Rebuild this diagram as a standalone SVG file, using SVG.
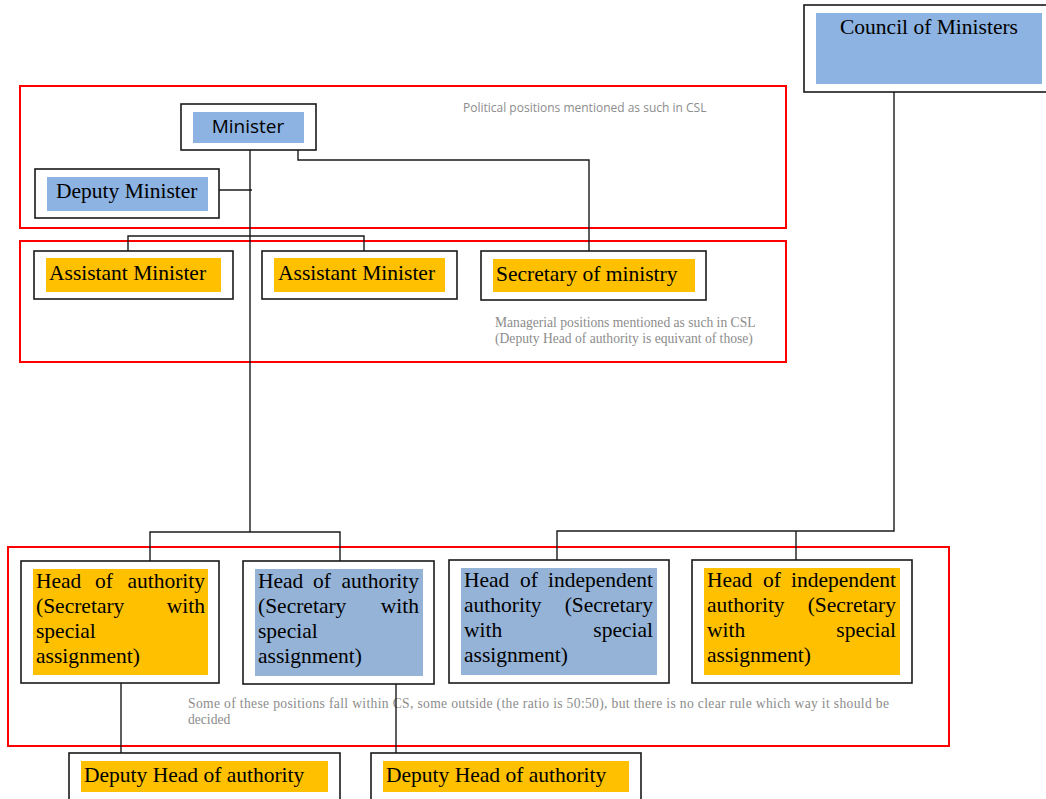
<svg xmlns="http://www.w3.org/2000/svg" width="1046" height="799" viewBox="0 0 1046 799">
  <style>
    .frame { fill: none; stroke: #ff0000; stroke-width: 2; }
    .box { fill: #ffffff; stroke: #1a1a1a; stroke-width: 1.6; }
    .blue { fill: #8db3e2; }
    .steel { fill: #95b3d7; }
    .amber { fill: #ffc000; }
    .lbl { font-family: "Liberation Serif", "Times New Roman", serif; font-size: 21.5px; fill: #000; }
    .sans { font-family: "Open Sans", "Noto Sans", "Liberation Sans", sans-serif; font-size: 19px; fill: #000; }
    .note { font-family: "Liberation Serif", "Times New Roman", serif; font-size: 13.6px; fill: #8c8c8c; }
    .notesans { font-family: "Open Sans", "Noto Sans", "Liberation Sans", sans-serif; font-size: 12px; fill: #8c8c8c; }
    .wire { fill: none; stroke: #1a1a1a; stroke-width: 1.4; }
  </style>

  <rect x="0" y="0" width="1046" height="799" fill="#ffffff"/>

  <!-- category frames -->
  <g id="frames">
    <rect class="frame" x="20" y="86" width="766" height="142"/>
    <rect class="frame" x="20" y="241" width="766" height="121"/>
    <rect class="frame" x="8" y="547" width="941" height="199"/>
    <text class="notesans" x="463" y="112">Political positions mentioned as such in CSL</text>
    <text class="note" x="495" y="327">Managerial positions mentioned as such in CSL</text>
    <text class="note" x="495" y="343">(Deputy Head of authority is equivant of those)</text>
    <text class="note" x="188" y="708" textLength="701" lengthAdjust="spacing">Some of these positions fall within CS, some outside (the ratio is 50:50), but there is no clear rule which way it should be</text>
    <text class="note" x="188" y="724">decided</text>
  </g>

  <!-- connectors -->
  <g id="connectors">
    <path class="wire" d="M250 150 V532"/>
    <path class="wire" d="M219 190 H252"/>
    <path class="wire" d="M298 150 V160 H589 V251"/>
    <path class="wire" d="M128 251 V236 H364 V251"/>
    <path class="wire" d="M150 561 V532 H340 V561"/>
    <path class="wire" d="M894 92 V531 H557 V561"/>
    <path class="wire" d="M796 531 V561"/>
    <path class="wire" d="M121 683 V753"/>
    <path class="wire" d="M396 684 V753"/>
  </g>

  <g id="council">
    <rect class="box" x="804" y="5" width="250" height="87"/>
    <rect class="blue" x="816" y="13" width="226" height="71"/>
    <text class="lbl" x="929" y="34" text-anchor="middle">Council of Ministers</text>
  </g>

  <g id="minister">
    <rect class="box" x="181" y="104" width="135" height="46"/>
    <rect class="blue" x="193" y="112" width="111" height="31"/>
    <text class="sans" x="248" y="133" text-anchor="middle">Minister</text>
  </g>

  <g id="deputy-minister">
    <rect class="box" x="35" y="169" width="184" height="49"/>
    <rect class="blue" x="47" y="177" width="161" height="34"/>
    <text class="lbl" x="56" y="198">Deputy Minister</text>
  </g>

  <g id="assistant-minister-1">
    <rect class="box" x="34" y="251" width="199" height="48"/>
    <rect class="amber" x="46" y="258" width="175" height="34"/>
    <text class="lbl" x="49" y="280">Assistant Minister</text>
  </g>

  <g id="assistant-minister-2">
    <rect class="box" x="262" y="251" width="195" height="48"/>
    <rect class="amber" x="274" y="258" width="171" height="34"/>
    <text class="lbl" x="278" y="280">Assistant Minister</text>
  </g>

  <g id="secretary-of-ministry">
    <rect class="box" x="481" y="251" width="225" height="49"/>
    <rect class="amber" x="493" y="259" width="202" height="33"/>
    <text class="lbl" x="496" y="281">Secretary of ministry</text>
  </g>

  <g id="head-authority-1">
    <rect class="box" x="21" y="561" width="198" height="122"/>
    <rect class="amber" x="33" y="569" width="175" height="106"/>
    <text class="lbl" x="36" y="588">Head</text>
    <text class="lbl" x="95" y="588">of</text>
    <text class="lbl" x="205" y="588" text-anchor="end">authority</text>
    <text class="lbl" x="36" y="613">(Secretary</text>
    <text class="lbl" x="205" y="613" text-anchor="end">with</text>
    <text class="lbl" x="36" y="638">special</text>
    <text class="lbl" x="36" y="663">assignment)</text>
  </g>

  <g id="head-authority-2">
    <rect class="box" x="243" y="561" width="191" height="123"/>
    <rect class="steel" x="255" y="569" width="168" height="107"/>
    <text class="lbl" x="258" y="588">Head</text>
    <text class="lbl" x="313" y="588">of</text>
    <text class="lbl" x="419" y="588" text-anchor="end">authority</text>
    <text class="lbl" x="258" y="613">(Secretary</text>
    <text class="lbl" x="419" y="613" text-anchor="end">with</text>
    <text class="lbl" x="258" y="638">special</text>
    <text class="lbl" x="258" y="663">assignment)</text>
  </g>

  <g id="head-independent-1">
    <rect class="box" x="449" y="560" width="220" height="123"/>
    <rect class="steel" x="461" y="568" width="196" height="107"/>
    <text class="lbl" x="464" y="587">Head</text>
    <text class="lbl" x="520" y="587">of</text>
    <text class="lbl" x="653" y="587" text-anchor="end">independent</text>
    <text class="lbl" x="464" y="612">authority</text>
    <text class="lbl" x="653" y="612" text-anchor="end">(Secretary</text>
    <text class="lbl" x="464" y="637">with</text>
    <text class="lbl" x="653" y="637" text-anchor="end">special</text>
    <text class="lbl" x="464" y="662">assignment)</text>
  </g>

  <g id="head-independent-2">
    <rect class="box" x="692" y="560" width="220" height="123"/>
    <rect class="amber" x="704" y="568" width="196" height="107"/>
    <text class="lbl" x="707" y="587">Head</text>
    <text class="lbl" x="763" y="587">of</text>
    <text class="lbl" x="896" y="587" text-anchor="end">independent</text>
    <text class="lbl" x="707" y="612">authority</text>
    <text class="lbl" x="896" y="612" text-anchor="end">(Secretary</text>
    <text class="lbl" x="707" y="637">with</text>
    <text class="lbl" x="896" y="637" text-anchor="end">special</text>
    <text class="lbl" x="707" y="662">assignment)</text>
  </g>

  <g id="deputy-head-1">
    <rect class="box" x="69" y="753" width="271" height="60"/>
    <rect class="amber" x="81" y="761" width="247" height="31"/>
    <text class="lbl" x="84" y="782">Deputy Head of authority</text>
  </g>

  <g id="deputy-head-2">
    <rect class="box" x="371" y="753" width="270" height="60"/>
    <rect class="amber" x="383" y="761" width="246" height="31"/>
    <text class="lbl" x="386" y="782">Deputy Head of authority</text>
  </g>
</svg>
